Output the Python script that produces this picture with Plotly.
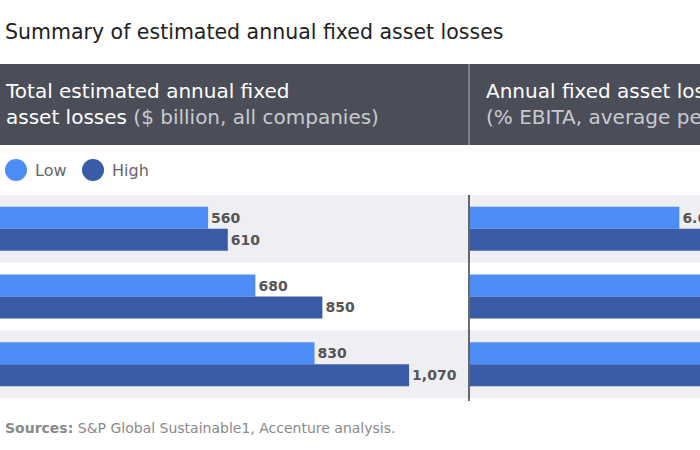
import plotly.graph_objects as go

# ---- data ----
rows = ["Scenario A", "Scenario B", "Scenario C"]
low_total = [560, 680, 830]          # $ billion, all companies
high_total = [610, 850, 1070]
low_pct = [6.6, 8.1, 9.9]            # % EBITA, average per company (mostly cropped)
high_pct = [7.4, 10.2, 12.8]
series_names = ["Low", "High"]
series_colors = ["#4b8df5", "#3a5ca6"]

W, H = 700, 450
FONT = "DejaVu Sans"

def px(x):
    return x / W

def py(y):
    return 1 - y / H

fig = go.Figure()

for vals, name, col in zip([low_total, high_total], series_names, series_colors):
    fig.add_trace(go.Bar(
        y=rows, x=vals, name=name, orientation="h", marker_color=col,
        marker_line_width=0, xaxis="x", yaxis="y", showlegend=False,
        texttemplate="<b>%{x:,}</b>", textposition="outside", cliponaxis=True,
        textfont=dict(family=FONT, size=14, color="#555555"),
    ))
for vals, name, col in zip([low_pct, high_pct], series_names, series_colors):
    fig.add_trace(go.Bar(
        y=rows, x=vals, name=name, orientation="h", marker_color=col,
        marker_line_width=0, xaxis="x2", yaxis="y", showlegend=False,
        texttemplate="<b>%{x:.1f}</b>", textposition="outside", cliponaxis=True,
        textfont=dict(family=FONT, size=14, color="#555555"),
    ))

split = 469
shapes = []
# header band
shapes.append(dict(type="rect", xref="paper", yref="paper", x0=0, x1=1,
                   y0=py(145), y1=py(64), fillcolor="#4b4e59", line_width=0, layer="below"))
shapes.append(dict(type="line", xref="paper", yref="paper", x0=px(split), x1=px(split),
                   y0=py(145), y1=py(64), line=dict(color="#8d909a", width=1.5)))
# row bands
for i in range(len(rows)):
    if i % 2 == 0:
        shapes.append(dict(type="rect", xref="paper", yref="y", x0=0, x1=1,
                           y0=i - 0.5, y1=i + 0.5, fillcolor="#efeff3", line_width=0,
                           layer="below"))
# divider in plot area
shapes.append(dict(type="line", xref="paper", yref="paper", x0=px(split), x1=px(split),
                   y0=py(401), y1=py(195), line=dict(color="#3a3a3a", width=1.5)))
# legend circles
for cx, col in zip([16, 93], series_colors):
    shapes.append(dict(type="circle", xref="paper", yref="paper",
                       x0=px(cx - 11), x1=px(cx + 11), y0=py(170 + 11), y1=py(170 - 11),
                       fillcolor=col, line_width=0))

def ann(text, x, y, size, color, **kw):
    d = dict(text=text, xref="paper", yref="paper", x=px(x), y=py(y),
             xanchor="left", yanchor="middle", align="left", showarrow=False,
             font=dict(family=FONT, size=size, color=color))
    d.update(kw)
    return d

annotations = [
    ann("Summary of estimated annual fixed asset losses", 3, 32, 20.5, "#222222"),
    ann("Total estimated annual fixed<br>asset losses <span style='color:#c9cad0'>($ billion, all companies)</span>",
        3, 104, 20, "#ffffff"),
    ann("Annual fixed asset losses<br><span style='color:#c9cad0'>(% EBITA, average per company)</span>",
        484, 104, 20, "#ffffff"),
    ann("<b>Sources:</b> S&P Global Sustainable1, Accenture analysis.", 3, 428, 14, "#8a8a8a"),
]
for tx, name in zip([33, 110], series_names):
    annotations.append(ann(name, tx, 170, 16, "#666666"))

fig.update_layout(
    width=W, height=H, margin=dict(l=0, r=0, t=0, b=0),
    paper_bgcolor="white", plot_bgcolor="rgba(0,0,0,0)",
    barmode="group", bargap=0.35, bargroupgap=0,
    xaxis=dict(domain=[0, px(split)], range=[32, 1222], visible=False, fixedrange=True),
    xaxis2=dict(domain=[px(split + 1), 1], range=[0, 7.25], visible=False, anchor="y"),
    yaxis=dict(domain=[py(398), py(195)], range=[2.5, -0.5], visible=False,
               type="category"),
    shapes=shapes, annotations=annotations,
)

fig.write_html("out.html", config={"displayModeBar": False},
               post_script="document.body.style.margin='0';")
